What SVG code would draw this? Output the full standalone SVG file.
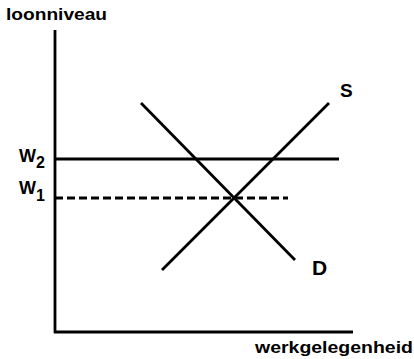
<svg xmlns="http://www.w3.org/2000/svg" width="414" height="359" viewBox="0 0 414 359">
<style>
.ln{stroke:#000;stroke-width:2.8;fill:none;stroke-linecap:butt}
.t{font-family:"Liberation Sans",Arial,sans-serif;font-weight:bold;fill:#000}
</style>
<rect width="414" height="359" fill="#fff"/>
<g id="connectors">
<line class="ln" x1="55" y1="30" x2="55" y2="333"/>
<line class="ln" x1="54" y1="332" x2="353" y2="332"/>
<line class="ln" x1="55" y1="159" x2="339" y2="159"/>
<line class="ln" x1="55" y1="198" x2="288" y2="198" stroke-dasharray="8 4"/>
<line class="ln" x1="141" y1="103" x2="295" y2="260"/>
<line class="ln" x1="162" y1="270" x2="329" y2="103"/>
</g>
<g id="label-y"><text class="t" x="6" y="20" font-size="16" textLength="101" lengthAdjust="spacingAndGlyphs">loonniveau</text></g>
<g id="label-x"><text class="t" x="255" y="353" font-size="17" textLength="158" lengthAdjust="spacingAndGlyphs">werkgelegenheid</text></g>
<g id="label-w2"><text class="t" x="19" y="162" font-size="19" textLength="17" lengthAdjust="spacingAndGlyphs">W</text><text class="t" x="36" y="168" font-size="16">2</text></g>
<g id="label-w1"><text class="t" x="19" y="194" font-size="19" textLength="17" lengthAdjust="spacingAndGlyphs">W</text><text class="t" x="36" y="201" font-size="16">1</text></g>
<g id="label-s"><text class="t" x="340" y="97" font-size="19">S</text></g>
<g id="label-d"><text class="t" x="312" y="275" font-size="21">D</text></g>
</svg>
